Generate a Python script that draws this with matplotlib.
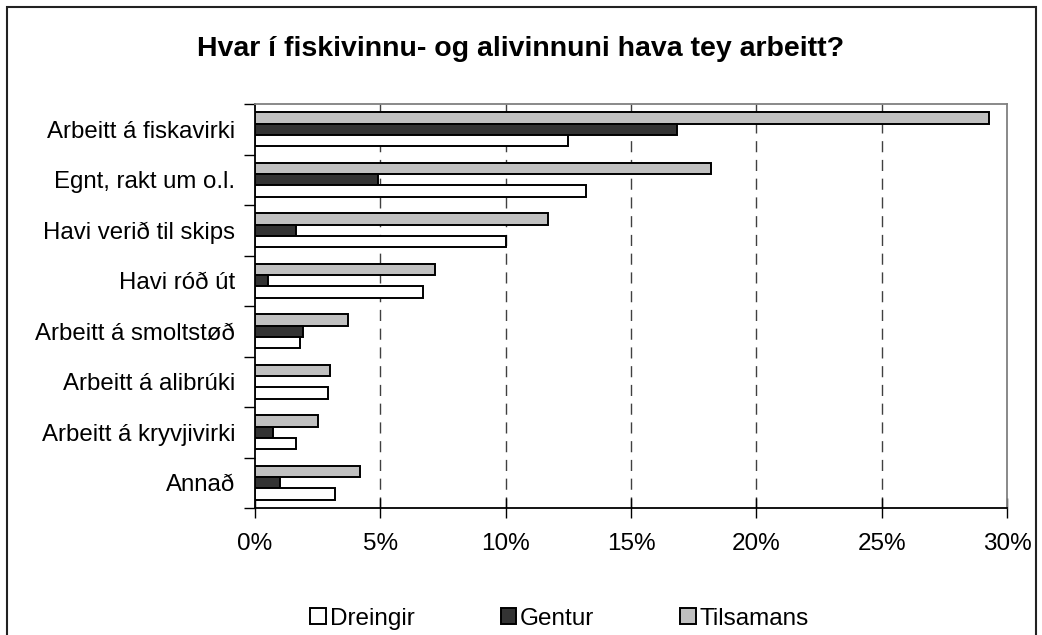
import matplotlib
matplotlib.use("Agg")
import matplotlib.pyplot as plt
import numpy as np
from matplotlib.patches import Rectangle

plt.rcParams['font.family'] = ['Liberation Sans', 'DejaVu Sans']

categories = ["Arbeitt á fiskavirki", "Egnt, rakt um o.l.", "Havi verið til skips",
              "Havi róð út", "Arbeitt á smoltstøð", "Arbeitt á alibrúki",
              "Arbeitt á kryvjivirki", "Annað"]
dreingir = [12.5, 13.2, 10.0, 6.7, 1.8, 2.9, 1.65, 3.2]
gentur = [16.85, 4.9, 1.65, 0.5, 1.9, 0.0, 0.7, 1.0]
tilsamans = [29.3, 18.2, 11.7, 7.2, 3.7, 3.0, 2.5, 4.2]
xticks = [0, 5, 10, 15, 20, 25, 30]
xticklabels = ["0%", "5%", "10%", "15%", "20%", "25%", "30%"]
title = "Hvar í fiskivinnu- og alivinnuni hava tey arbeitt?"

W, H = 1042, 635
fig = plt.figure(figsize=(W / 100, H / 100), dpi=100)
ax = fig.add_axes([255 / W, 1 - 508 / H, (1007 - 255) / W, (508 - 104) / H])

n = len(categories)
y = np.arange(n)
h = 0.225
ax.barh(y - h, tilsamans, height=h, color="#c0c0c0", edgecolor="black", linewidth=1.4, label="Tilsamans", zorder=3)
ax.barh(y, gentur, height=h, color="#333333", edgecolor="black", linewidth=1.4, label="Gentur", zorder=3)
ax.barh(y + h, dreingir, height=h, color="white", edgecolor="black", linewidth=1.4, label="Dreingir", zorder=3)

ax.set_ylim(n - 0.5, -0.5)
ax.set_xlim(0, 30)
ax.set_yticks(y)
ax.set_yticklabels(categories, fontsize=17.3)
ax.set_yticks(np.arange(-0.5, n, 1), minor=True)
ax.tick_params(axis='y', which='major', length=0, pad=14.4)
ax.tick_params(axis='y', which='minor', length=8, width=1, direction='out')
ax.set_xticks(xticks)
ax.set_xticklabels(xticklabels, fontsize=17.5)
ax.tick_params(axis='x', which='major', length=14, width=1, direction='inout', pad=11)

for xv in xticks[1:-1]:
    ax.axvline(xv, color="#404040", linestyle=(0, (8, 5.5)), linewidth=1, zorder=1)

for s in ['top', 'right']:
    ax.spines[s].set_color('#808080')
    ax.spines[s].set_linewidth(1.3)
for s in ['left', 'bottom']:
    ax.spines[s].set_color('black')
    ax.spines[s].set_linewidth(1.3)

fig.text(0.5, 1 - 56 / H, title, ha='center', va='baseline', fontsize=20.5, fontweight='bold')

handles, labels = ax.get_legend_handles_labels()
order = [2, 1, 0]
fig.legend([handles[i] for i in order], [labels[i] for i in order],
           loc='center', bbox_to_anchor=(0.537, 1 - 619 / H), ncol=3, frameon=False,
           fontsize=17.5, handlelength=0.64, handleheight=0.64, handletextpad=0.15,
           columnspacing=3.55, borderaxespad=0, borderpad=0)

fig.patches.append(Rectangle((6.5 / W, -0.01), (1036 - 6.5) / W, 1 - 6.5 / H + 0.01,
                             transform=fig.transFigure, fill=False,
                             edgecolor='#222222', linewidth=1.5))

fig.savefig("out.png", dpi=100)
